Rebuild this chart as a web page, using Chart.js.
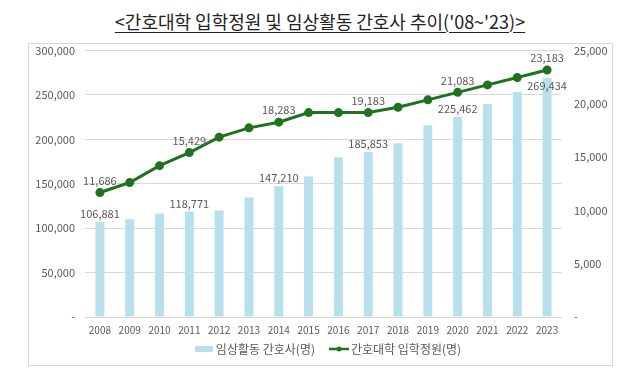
<!DOCTYPE html>
<html>
<head>
<meta charset="utf-8">
<script src="https://cdn.jsdelivr.net/npm/chart.js@4.4.1/dist/chart.umd.min.js"></script>
<style>
  body { margin: 0; background: #fff; width: 640px; height: 381px; position: relative; overflow: hidden; }
  #title {
    position: absolute; left: 0; top: 8px; width: 640px; text-align: center;
    font-family: "Noto Sans CJK KR", sans-serif; font-size: 18px; color: #222;
    text-decoration: underline; text-underline-offset: 3px;
  }
  #frame {
    position: absolute; left: 28px; top: 43px; width: 585px; height: 323px;
    border: 1px solid #d9d9d9; box-sizing: border-box;
  }
  #wrap { position: absolute; left: 29px; top: 32px; width: 583px; height: 333px; }
</style>
</head>
<body>
<div id="title">&lt;간호대학 입학정원 및 임상활동 간호사 추이('08~'23)&gt;</div>
<div id="frame"></div>
<div id="wrap"><canvas id="nurseChart"></canvas></div>
<script>
const years = ['2008', '2009', '2010', '2011', '2012', '2013', '2014', '2015', '2016', '2017', '2018', '2019', '2020', '2021', '2022', '2023'];
const clinicalNurses = [106881, 110000, 116500, 118771, 119800, 134700, 147210, 158200, 180000, 185853, 195600, 215800, 225462, 240000, 253400, 269434];
const admissionQuota = [11686, 12620, 14200, 15429, 16880, 17750, 18283, 19183, 19183, 19183, 19680, 20380, 21083, 21780, 22480, 23183];
const labeledIdx = [0, 3, 6, 9, 12, 15];
const leftTicks = [0, 50000, 100000, 150000, 200000, 250000, 300000];
const rightTicks = [0, 5000, 10000, 15000, 20000, 25000];

const fontFam = '"Noto Sans CJK KR", sans-serif';
const gray = '#595959';
const barColor = '#b7e0ea';
const lineColor = '#1f731f';

function fmt(v) {
  return v === 0 ? '-' : v.toLocaleString('en-US');
}

function legendIcon(kind) {
  const c = document.createElement('canvas');
  c.width = 20; c.height = 8;
  const g = c.getContext('2d');
  if (kind === 'bar') {
    g.fillStyle = barColor;
    g.fillRect(1, 1, 18, 6);
  } else {
    g.strokeStyle = lineColor;
    g.lineWidth = 2.5;
    g.beginPath(); g.moveTo(0, 4); g.lineTo(20, 4); g.stroke();
    g.fillStyle = lineColor;
    g.beginPath(); g.arc(10, 4, 2.5, 0, Math.PI * 2); g.fill();
  }
  return c;
}
const icons = [legendIcon('bar'), legendIcon('line')];

// value labels on selected points
const valueLabels = {
  id: 'valueLabels',
  afterLayout(chart) {
    // excel legend sits a bit right of centre
    chart.legend.left += 9;
    chart.legend.right += 9;
  },
  afterDatasetsDraw(chart) {
    const ctx = chart.ctx;
    ctx.save();
    ctx.font = '11px ' + fontFam;
    ctx.fillStyle = gray;
    ctx.textAlign = 'center';
    ctx.textBaseline = 'middle';
    chart.data.datasets.forEach((ds, di) => {
      const meta = chart.getDatasetMeta(di);
      labeledIdx.forEach(i => {
        const el = meta.data[i];
        let dy;
        if (ds.type === 'bar') {
          dy = i === 15 ? 8 : -8;
        } else {
          dy = -12;
        }
        ctx.fillText(fmt(ds.data[i]), el.x, el.y + dy);
      });
    });
    ctx.restore();
  }
};

const ctx = document.getElementById('nurseChart').getContext('2d');
new Chart(ctx, {
  data: {
    labels: years,
    datasets: [{
      type: 'bar',
      label: '임상활동 간호사(명)',
      data: clinicalNurses,
      yAxisID: 'y',
      backgroundColor: barColor,
      barPercentage: 0.3,
      categoryPercentage: 1,
      order: 1
    }, {
      type: 'line',
      label: '간호대학 입학정원(명)',
      data: admissionQuota,
      yAxisID: 'y1',
      borderColor: lineColor,
      backgroundColor: lineColor,
      borderWidth: 3,
      pointRadius: 3,
      pointHoverRadius: 3,
      tension: 0,
      order: 0
    }]
  },
  options: {
    responsive: true,
    maintainAspectRatio: false,
    animation: false,
    layout: { padding: { top: 0, left: 0, right: 0, bottom: 0 } },
    plugins: {
      legend: {
        position: 'bottom',
        labels: {
          usePointStyle: true,
          pointStyleWidth: 12,
          font: { family: fontFam, size: 12 },
          color: gray,
          padding: 6,
          boxHeight: 8,
          sort: (a, b) => a.datasetIndex - b.datasetIndex,
          generateLabels: chart => {
            const items = Chart.defaults.plugins.legend.labels.generateLabels(chart);
            items.forEach(it => {
              it.pointStyle = icons[it.datasetIndex];
              if (it.datasetIndex === 0) it.text = it.text + '\u2003';
            });
            return items;
          }
        }
      },
      tooltip: { enabled: false }
    },
    scales: {
      x: {
        grid: { display: false, drawTicks: false },
        border: { display: false },
        afterFit: s => { s.height -= 6; },
        ticks: { font: { family: fontFam, size: 10 }, color: gray, maxRotation: 0, autoSkip: false, padding: 7 }
      },
      y: {
        position: 'left',
        min: 0, max: 300000,
        afterBuildTicks: s => { s.ticks = leftTicks.map(v => ({ value: v })); },
        afterFit: s => { s.width = 56; },
        grid: { color: '#d9d9d9', drawTicks: false },
        border: { display: false },
        ticks: { font: { family: fontFam, size: 11 }, color: gray, padding: 10, callback: v => fmt(v) }
      },
      y1: {
        position: 'right',
        min: 0, max: 25000,
        afterBuildTicks: s => { s.ticks = rightTicks.map(v => ({ value: v })); },
        afterFit: s => { s.width = 50; },
        grid: { display: false, drawTicks: false },
        border: { display: false },
        ticks: { font: { family: fontFam, size: 11 }, color: gray, padding: 12, callback: v => fmt(v) }
      }
    }
  },
  plugins: [valueLabels]
});
</script>
</body>
</html>
